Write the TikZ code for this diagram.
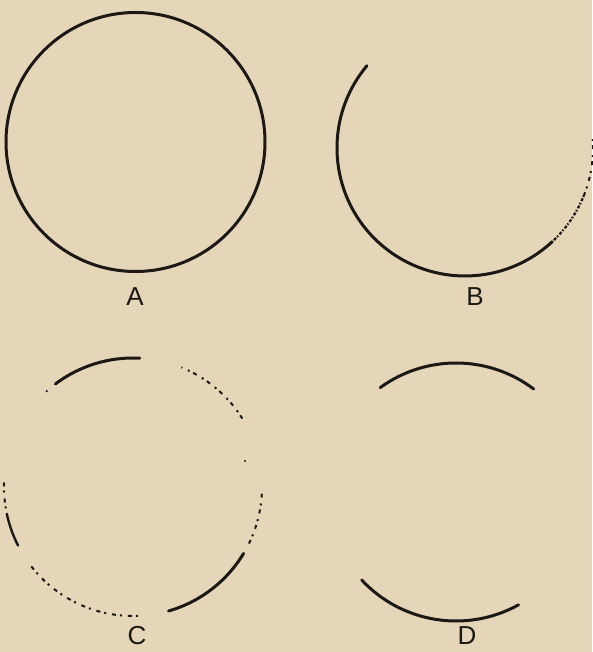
\documentclass[tikz,border=0pt]{standalone}
\usepackage{fontspec}
\setmainfont{Liberation Sans}
\definecolor{paper}{RGB}{229,214,185}
\definecolor{ink}{RGB}{28,24,20}

\begin{document}
\begin{tikzpicture}[x=1pt, y=1pt,
  every node/.style={font=\fontsize{26}{26}\selectfont, text=ink, inner sep=0pt},
  outline/.style={draw=ink, line width=3pt, line cap=round},
  broken/.style={draw=ink, line width=2pt, dash pattern=on 4pt off 4pt on 2pt off 6pt},
  dense/.style={draw=ink, line width=2.2pt, dash pattern=on 3pt off 1.5pt on 1.5pt off 2pt}]
% Paper
\fill[paper] (0,0) rectangle (592,652);
\useasboundingbox (0,0) rectangle (592,652);

% Centres
\coordinate (cA) at (135.5,510);
\coordinate (cB) at (465,504);
\coordinate (cC) at (133,165);
\coordinate (cD) at (456,160);

% Circle A
\draw[outline] (cA) circle (129.5);
\node (labelA) at (135,355) {A};

% Circle B
\draw[outline] (cB) ++(140:128) arc[start angle=140, end angle=313, radius=128];
\draw[dense] (cB) ++(314:128) arc[start angle=314, end angle=338, radius=128];
\draw[broken] (cB) ++(338:128) arc[start angle=338, end angle=365, radius=128];
\node (labelB) at (475,355) {B};

% Circle C
\draw[outline] (cC) ++(87:129) arc[start angle=87, end angle=127, radius=129];
\fill[ink] (cC) ++(132:129) circle (1.2pt);
\draw[broken] (cC) ++(32:129) arc[start angle=32, end angle=68, radius=129];
\fill[ink] (245,191) circle (1.2pt);
\draw[broken] (cC) ++(-26:129) arc[start angle=-26, end angle=-3, radius=129];
\draw[outline] (cC) ++(-74:129) arc[start angle=-74, end angle=-31, radius=129];
\draw[broken] (cC) ++(218:129) arc[start angle=218, end angle=273, radius=129];
\draw[broken] (cC) ++(178:129) arc[start angle=178, end angle=192, radius=129];
\draw[outline, line width=2.4pt] (cC) ++(192:129) arc[start angle=192, end angle=207, radius=129];
\node (labelC) at (137,16) {C};

% Circle D
\draw[outline] (cD) ++(53:129) arc[start angle=53, end angle=126, radius=129];
\draw[outline] (cD) ++(223:129) arc[start angle=223, end angle=299, radius=129];
\node (labelD) at (467,16) {D};

\end{tikzpicture}
\end{document}
